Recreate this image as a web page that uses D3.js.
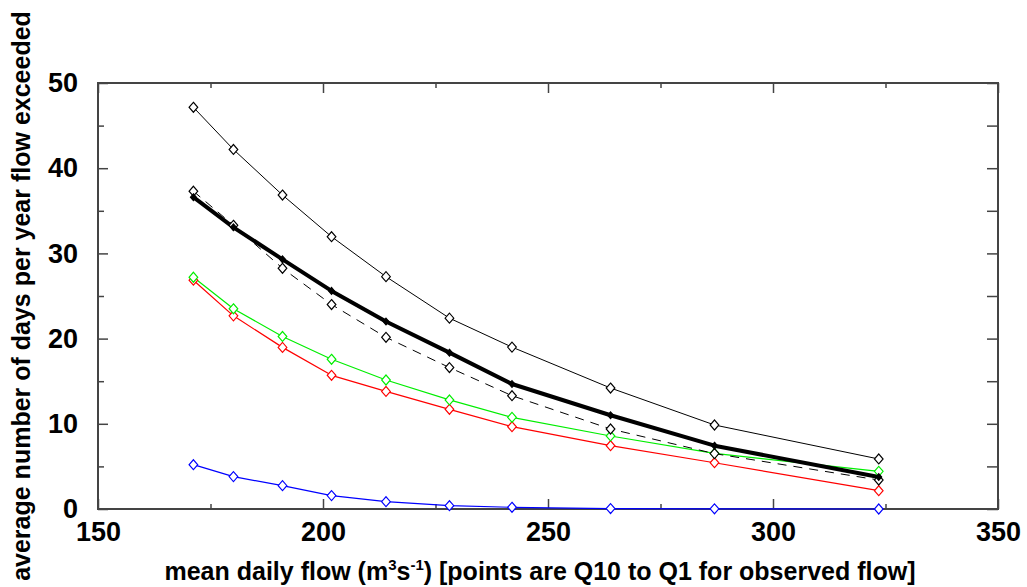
<!DOCTYPE html>
<html>
<head>
<meta charset="utf-8">
<script src="https://cdn.jsdelivr.net/npm/d3@7"></script>
<style>
  html, body { margin: 0; padding: 0; background: #fff; }
  svg { display: block; font-family: "Liberation Sans", Arial, sans-serif; }
</style>
</head>
<body>
<svg id="chart" width="1027" height="587"></svg>
<script>
// observed flow quantiles Q10..Q1 (m3 s-1)
const flow = [171.2, 180.1, 191.0, 201.9, 214.0, 228.1, 242.0, 263.9, 287.0, 323.5];

// days per year exceeded, one array per curve
const upper    = [47.15, 42.2, 36.85, 31.96, 27.27, 22.4, 19.0, 14.2, 9.86, 5.87];
const observed = [37.3, 33.3, 28.25, 24.0, 20.15, 16.6, 13.3, 9.39, 6.5, 3.4];
const central  = [36.6, 33.06, 29.3, 25.6, 22.0, 18.35, 14.67, 11.0, 7.43, 3.75];
const greenS   = [27.2, 23.5, 20.25, 17.57, 15.14, 12.8, 10.76, 8.57, 6.53, 4.42];
const redS     = [26.85, 22.67, 18.97, 15.69, 13.8, 11.7, 9.66, 7.43, 5.43, 2.15];
const blueS    = [5.2, 3.8, 2.74, 1.57, 0.86, 0.39, 0.2, 0.05, 0.02, 0.0];

const xMajor = [150, 200, 250, 300, 350];
const xMinor = [175, 225, 275, 325];
const yMajor = [0, 10, 20, 30, 40, 50];
const yMinor = [5, 15, 25, 35, 45];

const yTitle = "average number of days per year flow exceeded";

const L = 98, R = 998, T = 83, B = 509;
const svg = d3.select("#chart");
const x = d3.scaleLinear().domain([150, 350]).range([L, R]);
const y = d3.scaleLinear().domain([0, 50]).range([B, T]);

const AX = "#444";

// frame
svg.append("rect").attr("x", L).attr("y", T).attr("width", R - L).attr("height", B - T)
  .attr("fill", "none").attr("stroke", AX).attr("stroke-width", 2);

function styleAxis(g, fs){
  g.select(".domain").remove();
  g.selectAll(".tick line").attr("stroke", AX).attr("stroke-width", 1.5);
  g.selectAll(".tick text").attr("font-size", fs).attr("fill", "#000")
    .attr("font-weight", "bold")
    .attr("font-family", "Liberation Sans, Arial, sans-serif");
}

// bottom
svg.append("g").attr("transform", `translate(0,${B})`)
  .call(d3.axisBottom(x).tickValues(xMajor).tickSize(-10).tickPadding(13).tickFormat(d3.format("d")))
  .call(g => styleAxis(g, 27));
svg.append("g").attr("transform", `translate(0,${B})`)
  .call(d3.axisBottom(x).tickValues(xMinor).tickSize(-5).tickFormat(""))
  .call(g => styleAxis(g, 0));
// top
svg.append("g").attr("transform", `translate(0,${T})`)
  .call(d3.axisTop(x).tickValues(xMajor).tickSize(-10).tickFormat(""))
  .call(g => styleAxis(g, 0));
svg.append("g").attr("transform", `translate(0,${T})`)
  .call(d3.axisTop(x).tickValues(xMinor).tickSize(-5).tickFormat(""))
  .call(g => styleAxis(g, 0));
// left
svg.append("g").attr("transform", `translate(${L},0)`)
  .call(d3.axisLeft(y).tickValues(yMajor).tickSize(-10).tickPadding(20).tickFormat(d3.format("d")))
  .call(g => styleAxis(g, 27));
svg.append("g").attr("transform", `translate(${L},0)`)
  .call(d3.axisLeft(y).tickValues(yMinor).tickSize(-6).tickFormat(""))
  .call(g => styleAxis(g, 0));
// right
svg.append("g").attr("transform", `translate(${R},0)`)
  .call(d3.axisRight(y).tickValues(yMajor.concat(yMinor)).tickSize(-11).tickFormat(""))
  .call(g => styleAxis(g, 0));

// series
const line = d3.line().x((d, i) => x(flow[i])).y(d => y(d));
const series = [
  {v: blueS,    c: "#0000ff", w: 1.2, dash: null},
  {v: redS,     c: "#ff0000", w: 1.2, dash: null},
  {v: greenS,   c: "#00ee00", w: 1.2, dash: null},
  {v: observed, c: "#000",    w: 1,   dash: "9,7"},
  {v: upper,    c: "#000",    w: 1,   dash: null},
  {v: central,  c: "#000",    w: 4,   dash: null, small: true}
];

const diamond = d3.symbol().type(d3.symbolDiamond2).size(48);
const diamondS = d3.symbol().type(d3.symbolDiamond2).size(22);

series.forEach(s => {
  svg.append("path").datum(s.v).attr("d", line)
    .attr("fill", "none").attr("stroke", s.c).attr("stroke-width", s.w)
    .attr("stroke-dasharray", s.dash).attr("stroke-linejoin", "round");
});
series.forEach(s => {
  svg.append("g").selectAll("path").data(s.v).enter().append("path")
    .attr("d", s.small ? diamondS : diamond)
    .attr("transform", (d, i) => `translate(${x(flow[i])},${y(d)}) scale(1,1.15)`)
    .attr("fill", s.small ? "#000" : "#fff").attr("stroke", s.c).attr("stroke-width", 1.1);
});

// axis titles
const xt = svg.append("text").attr("x", 540).attr("y", 580).attr("text-anchor", "middle")
  .attr("font-size", 25).attr("font-weight", "bold");
xt.append("tspan").text("mean daily flow (m");
xt.append("tspan").attr("dy", -10).attr("font-size", 15).text("3");
xt.append("tspan").attr("dy", 10).text("s");
xt.append("tspan").attr("dy", -10).attr("font-size", 15).text("-1");
xt.append("tspan").attr("dy", 10).text(") [points are Q10 to Q1 for observed flow]");

svg.append("text").attr("transform", "translate(30,296) rotate(-90)").attr("text-anchor", "middle")
  .attr("font-size", 25).attr("font-weight", "bold").text(yTitle);
</script>
</body>
</html>
